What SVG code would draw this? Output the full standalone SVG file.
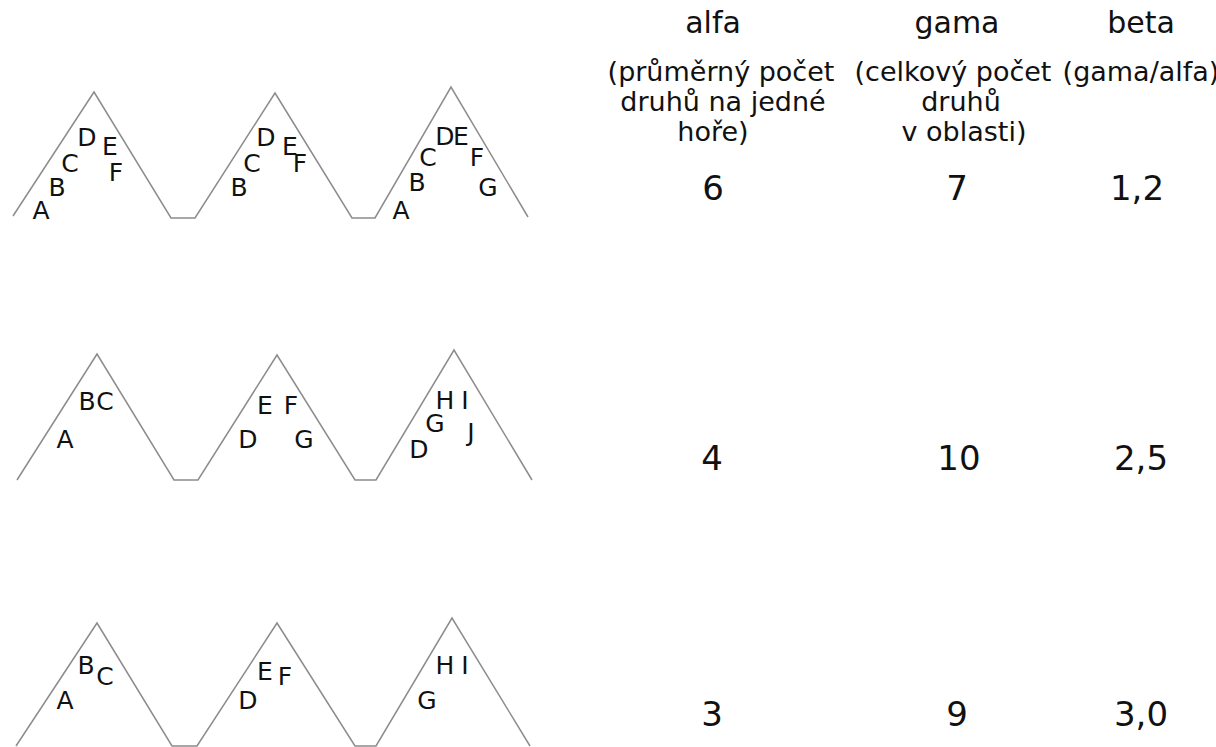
<svg xmlns="http://www.w3.org/2000/svg" width="1216" height="747" viewBox="0 0 1216 747">
<style>
.mt{fill:none;stroke:#8c8c8c;stroke-width:1.5;stroke-linejoin:miter}
.sp{font-family:"DejaVu Sans",sans-serif;font-size:25px;fill:#111;text-anchor:middle}
.hd{font-family:"DejaVu Sans",sans-serif;font-size:30px;fill:#111;text-anchor:middle}
.sub{font-family:"DejaVu Sans",sans-serif;font-size:27px;fill:#111;text-anchor:middle}
.num{font-family:"DejaVu Sans",sans-serif;font-size:34px;fill:#111;text-anchor:middle}
</style>
<rect width="1216" height="747" fill="#fff"/>
<g id="mountains">
<polyline class="mt" points="13,216 94,92 171,218 195,218 275,93 352,218 375,218 451,87 528,217"/>
<polyline class="mt" points="17,480 97,354 174,480 198,480 277,355 355,480 376,480 454,350 532,480"/>
<polyline class="mt" points="16,746 97,623 172,746 197,746 277,623 355,746 376,746 452,618 530,746"/>
</g>
<g id="row1-species">
<text class="sp" x="41" y="219">A</text>
<text class="sp" x="57" y="196">B</text>
<text class="sp" x="70" y="172">C</text>
<text class="sp" x="87" y="146">D</text>
<text class="sp" x="110" y="155">E</text>
<text class="sp" x="116" y="181">F</text>
<text class="sp" x="239" y="196">B</text>
<text class="sp" x="252" y="172">C</text>
<text class="sp" x="266" y="146">D</text>
<text class="sp" x="290" y="155">E</text>
<text class="sp" x="300" y="172">F</text>
<text class="sp" x="401" y="219">A</text>
<text class="sp" x="417" y="191">B</text>
<text class="sp" x="428" y="166">C</text>
<text class="sp" x="445" y="145">D</text>
<text class="sp" x="461" y="145">E</text>
<text class="sp" x="477" y="166">F</text>
<text class="sp" x="488" y="196">G</text>
</g>
<g id="row2-species">
<text class="sp" x="65" y="448">A</text>
<text class="sp" x="87" y="410">B</text>
<text class="sp" x="105" y="410">C</text>
<text class="sp" x="248" y="448">D</text>
<text class="sp" x="265" y="414">E</text>
<text class="sp" x="291" y="414">F</text>
<text class="sp" x="304" y="448">G</text>
<text class="sp" x="419" y="458">D</text>
<text class="sp" x="435" y="432">G</text>
<text class="sp" x="445" y="409">H</text>
<text class="sp" x="465" y="409">I</text>
<text class="sp" x="471" y="441">J</text>
</g>
<g id="row3-species">
<text class="sp" x="65" y="709">A</text>
<text class="sp" x="86" y="674">B</text>
<text class="sp" x="105" y="685">C</text>
<text class="sp" x="248" y="709">D</text>
<text class="sp" x="265" y="680">E</text>
<text class="sp" x="285" y="685">F</text>
<text class="sp" x="427" y="709">G</text>
<text class="sp" x="445" y="674">H</text>
<text class="sp" x="465" y="674">I</text>
</g>
<g id="headers">
<text class="hd" x="713" y="33">alfa</text>
<text class="hd" x="957" y="33">gama</text>
<text class="hd" x="1141" y="33">beta</text>
<text class="sub" x="721" y="81">(průměrný počet</text>
<text class="sub" x="723" y="111">druhů na jedné</text>
<text class="sub" x="713" y="141">hoře)</text>
<text class="sub" x="953" y="81">(celkový počet</text>
<text class="sub" x="961" y="111">druhů</text>
<text class="sub" x="964" y="141">v oblasti)</text>
<text class="sub" x="1141" y="81">(gama/alfa)</text>
</g>
<g id="values">
<text class="num" x="713" y="200">6</text>
<text class="num" x="957" y="200">7</text>
<text class="num" x="1137" y="200">1,2</text>
<text class="num" x="712" y="470">4</text>
<text class="num" x="959" y="470">10</text>
<text class="num" x="1141" y="470">2,5</text>
<text class="num" x="712" y="726">3</text>
<text class="num" x="957" y="726">9</text>
<text class="num" x="1141" y="726">3,0</text>
</g>
</svg>
